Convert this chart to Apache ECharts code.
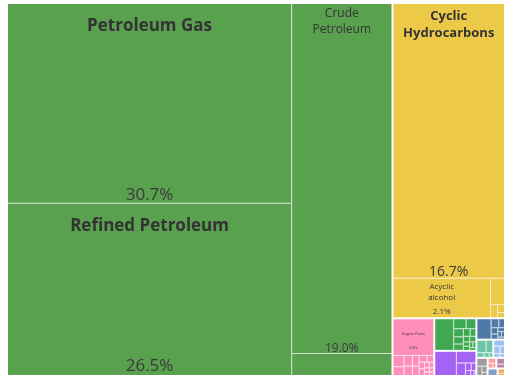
<!DOCTYPE html>
<html><head><meta charset="utf-8">
<script src="https://cdn.jsdelivr.net/npm/echarts@6/dist/echarts.min.js"></script>
<style>html,body{margin:0;padding:0;background:#fff}#c{width:511px;height:384px}</style>
</head><body><div id="c"></div>
<script>
// ---- Data (share of total exports, %) ----
const groupNames = ['Mineral Products','Chemical Products','Plastics and Rubbers','Machines','Textiles','Metals','Instruments','Transportation','Miscellaneous','Stone and Glass','Foodstuffs','Vegetable Products','Animal Products'];

const mineralNames  = ['Petroleum Gas','Refined Petroleum','Crude Petroleum','Petroleum Coke'];
const mineralValues = [30.7, 26.5, 19.0, 1.2];

const chemicalNames  = ['Cyclic Hydrocarbons','Acyclic alcohol','Nitrogenous Fertilizers','Ammonia','Sulphur','Other Chemicals'];
const chemicalValues = [16.7, 2.1, 0.2, 0.05, 0.03, 0.02];

const plasticNames  = ['Engine Parts','Ethylene Polymers','Propylene Polymers','Rubber Tires','Plastic Lids','Polyacetals','Vinyl Chloride Polymers','Styrene Polymers','Plastic Pipes','Rubber Belts','Plastic Housewares','Raw Plastic Sheeting','Other Plastic Sheetings','Rubber Hoses','Plastic Floor Coverings','Rubber Gaskets','Hard Rubber'];
const plasticValues = [0.84, 0.07, 0.055, 0.05, 0.045, 0.04, 0.035, 0.03, 0.025, 0.02, 0.02, 0.015, 0.015, 0.012, 0.01, 0.01, 0.008];

const machineNames  = ['Gas Turbines','Electric Generators','Valves','Air Pumps','Centrifuges','Liquid Pumps','Electrical Transformers','Computers','Telephones','Industrial Machinery','Insulated Wire','Electric Motors','Cranes','Engines','Refrigerators'];
const machineValues = [0.34, 0.07, 0.055, 0.045, 0.04, 0.035, 0.03, 0.025, 0.02, 0.02, 0.015, 0.015, 0.01, 0.01, 0.01];

const textileNames  = ['Synthetic Filament Yarn','Non-Retail Synthetic Yarn','Synthetic Fabrics','Knit Sweaters','Non-Knit Suits','Carpets','Cotton Fabrics','Felt'];
const textileValues = [0.3, 0.13, 0.065, 0.025, 0.02, 0.015, 0.01, 0.005];

const metalNames  = ['Raw Aluminium','Aluminium Bars','Iron Structures','Scrap Iron','Aluminium Plating','Copper Wire','Iron Pipes','Steel Bars','Iron Fasteners'];
const metalValues = [0.17, 0.04, 0.03, 0.025, 0.02, 0.015, 0.012, 0.01, 0.008];

const instrumentNames  = ['Medical Instruments','Measuring Instruments','Optical Fibers','Gas Analysis','Thermostats'];
const instrumentValues = [0.07, 0.05, 0.02, 0.015, 0.01];

const transportNames  = ['Cars','Aircraft Parts','Vehicle Parts','Delivery Trucks','Ships'];
const transportValues = [0.04, 0.03, 0.02, 0.015, 0.01];

const miscNames  = ['Seats','Furniture','Lighting','Prefab Buildings'];
const miscValues = [0.05, 0.03, 0.02, 0.01];

const stoneNames  = ['Jewellery','Glass Fibers'];
const stoneValues = [0.03, 0.02];

const foodNames  = ['Baked Goods','Sauces','Flavored Water'];
const foodValues = [0.025, 0.015, 0.01];

const vegetableNames  = ['Dates','Vegetable Oils'];
const vegetableValues = [0.02, 0.01];

const animalNames  = ['Fish'];
const animalValues = [0.04];

// ---- Styling ----
const groupColors = ['#59a14f','#edc948','#ff8fb9','#3ea852','#a463f2','#4f7aa8','#6cc5a6','#9ec3f2','#9b9b9b','#b58aa5','#ff9e9e','#f2a65a','#7fa1c8'];
const groupBorders = ['#cfe6c9','#f8ecbf','#ffe0ec','#c6e9cd','#e6d4fb','#cbd8e6','#d4efe6','#e4eefb','#e2e2e2','#eadde6','#ffe0e0','#fbe3cc','#d9e3ef'];

const FONT = '"Open Sans", "Noto Sans", sans-serif';
const nameStyle = {
  'Petroleum Gas':       {fontSize: 17, fontWeight: 'bold', distance: 8, lineHeight: 22, dy: 3},
  'Refined Petroleum':   {fontSize: 17, fontWeight: 'bold', distance: 9, lineHeight: 22, dy: 2},
  'Crude Petroleum':     {fontSize: 12, fontWeight: 'normal', distance: 0, lineHeight: 16, wrap: true, dy: 2},
  'Cyclic Hydrocarbons': {fontSize: 13, fontWeight: 'bold', distance: 3, lineHeight: 17, wrap: true, dy: 1},
  'Acyclic alcohol':     {fontSize: 8, fontWeight: 'normal', distance: 1, lineHeight: 11, wrap: true, dy: 1},
  'Engine Parts':        {fontSize: 4, fontWeight: 'normal', distance: 12, lineHeight: 5, dy: 0}
};
const pctStyle = {
  'Petroleum Gas':       {fontSize: 17, distance: 0, lineHeight: 20, dy: 2},
  'Refined Petroleum':   {fontSize: 17, distance: 1, lineHeight: 20, dy: 2},
  'Crude Petroleum':     {fontSize: 12, distance: 0, lineHeight: 14, dy: 3},
  'Cyclic Hydrocarbons': {fontSize: 14, distance: 0, lineHeight: 16, dy: 2},
  'Acyclic alcohol':     {fontSize: 8, distance: 2, lineHeight: 10, dy: 1},
  'Engine Parts':        {fontSize: 4, distance: 5, lineHeight: 5, dy: 0}
};

const groups = [
  [mineralNames, mineralValues], [chemicalNames, chemicalValues], [plasticNames, plasticValues],
  [machineNames, machineValues], [textileNames, textileValues], [metalNames, metalValues],
  [instrumentNames, instrumentValues], [transportNames, transportValues], [miscNames, miscValues],
  [stoneNames, stoneValues], [foodNames, foodValues], [vegetableNames, vegetableValues], [animalNames, animalValues]
];

function buildData(kind) {
  return groups.map(function (g, gi) {
    return {
      name: groupNames[gi],
      itemStyle: kind === 'name'
        ? {color: groupColors[gi], borderColor: groupBorders[gi]}
        : {color: 'transparent', borderColor: 'transparent'},
      children: g[0].map(function (n, i) {
        const item = {name: n, value: g[1][i]};
        if (kind === 'pct') item.itemStyle = {color: 'transparent', borderColor: 'transparent'};
        const st = kind === 'name' ? nameStyle[n] : pctStyle[n];
        if (st) {
          item.label = {
            show: true,
            position: kind === 'name' ? 'insideTop' : 'insideBottom',
            distance: st.distance,
            offset: [0, st.dy],
            padding: 0,
            fontSize: st.fontSize,
            fontWeight: st.fontWeight || 'normal',
            lineHeight: st.lineHeight,
            color: kind === 'name' ? '#333333' : '#3a3a3a',
            fontFamily: FONT,
            formatter: kind === 'name'
              ? (st.wrap ? n.replace(' ', '\n') : n)
              : (g[1][i].toFixed(1) + '%')
          };
        }
        return item;
      })
    };
  });
}

function makeSeries(kind) {
  const transparent = kind === 'pct';
  return {
    type: 'treemap',
    left: 8, top: 4, right: 7, bottom: 9,
    roam: false, nodeClick: false, silent: transparent,
    breadcrumb: {show: false},
    visibleMin: 0,
    squareRatio: 1,
    sort: 'desc',
    animation: false,
    label: {show: false},
    upperLabel: {show: false},
    emphasis: {disabled: true},
    levels: [
      {itemStyle: {borderWidth: 0, gapWidth: 2, borderColor: transparent ? 'transparent' : '#ffffff'}},
      {itemStyle: {borderWidth: 0, gapWidth: 1}},
      {itemStyle: {borderWidth: 0, gapWidth: 0}}
    ],
    data: buildData(kind)
  };
}

const chart = echarts.init(document.getElementById('c'), null, {renderer: 'canvas'});
chart.setOption({
  backgroundColor: '#ffffff',
  animation: false,
  tooltip: {show: false},
  series: [makeSeries('name'), makeSeries('pct')]
});
</script></body></html>
